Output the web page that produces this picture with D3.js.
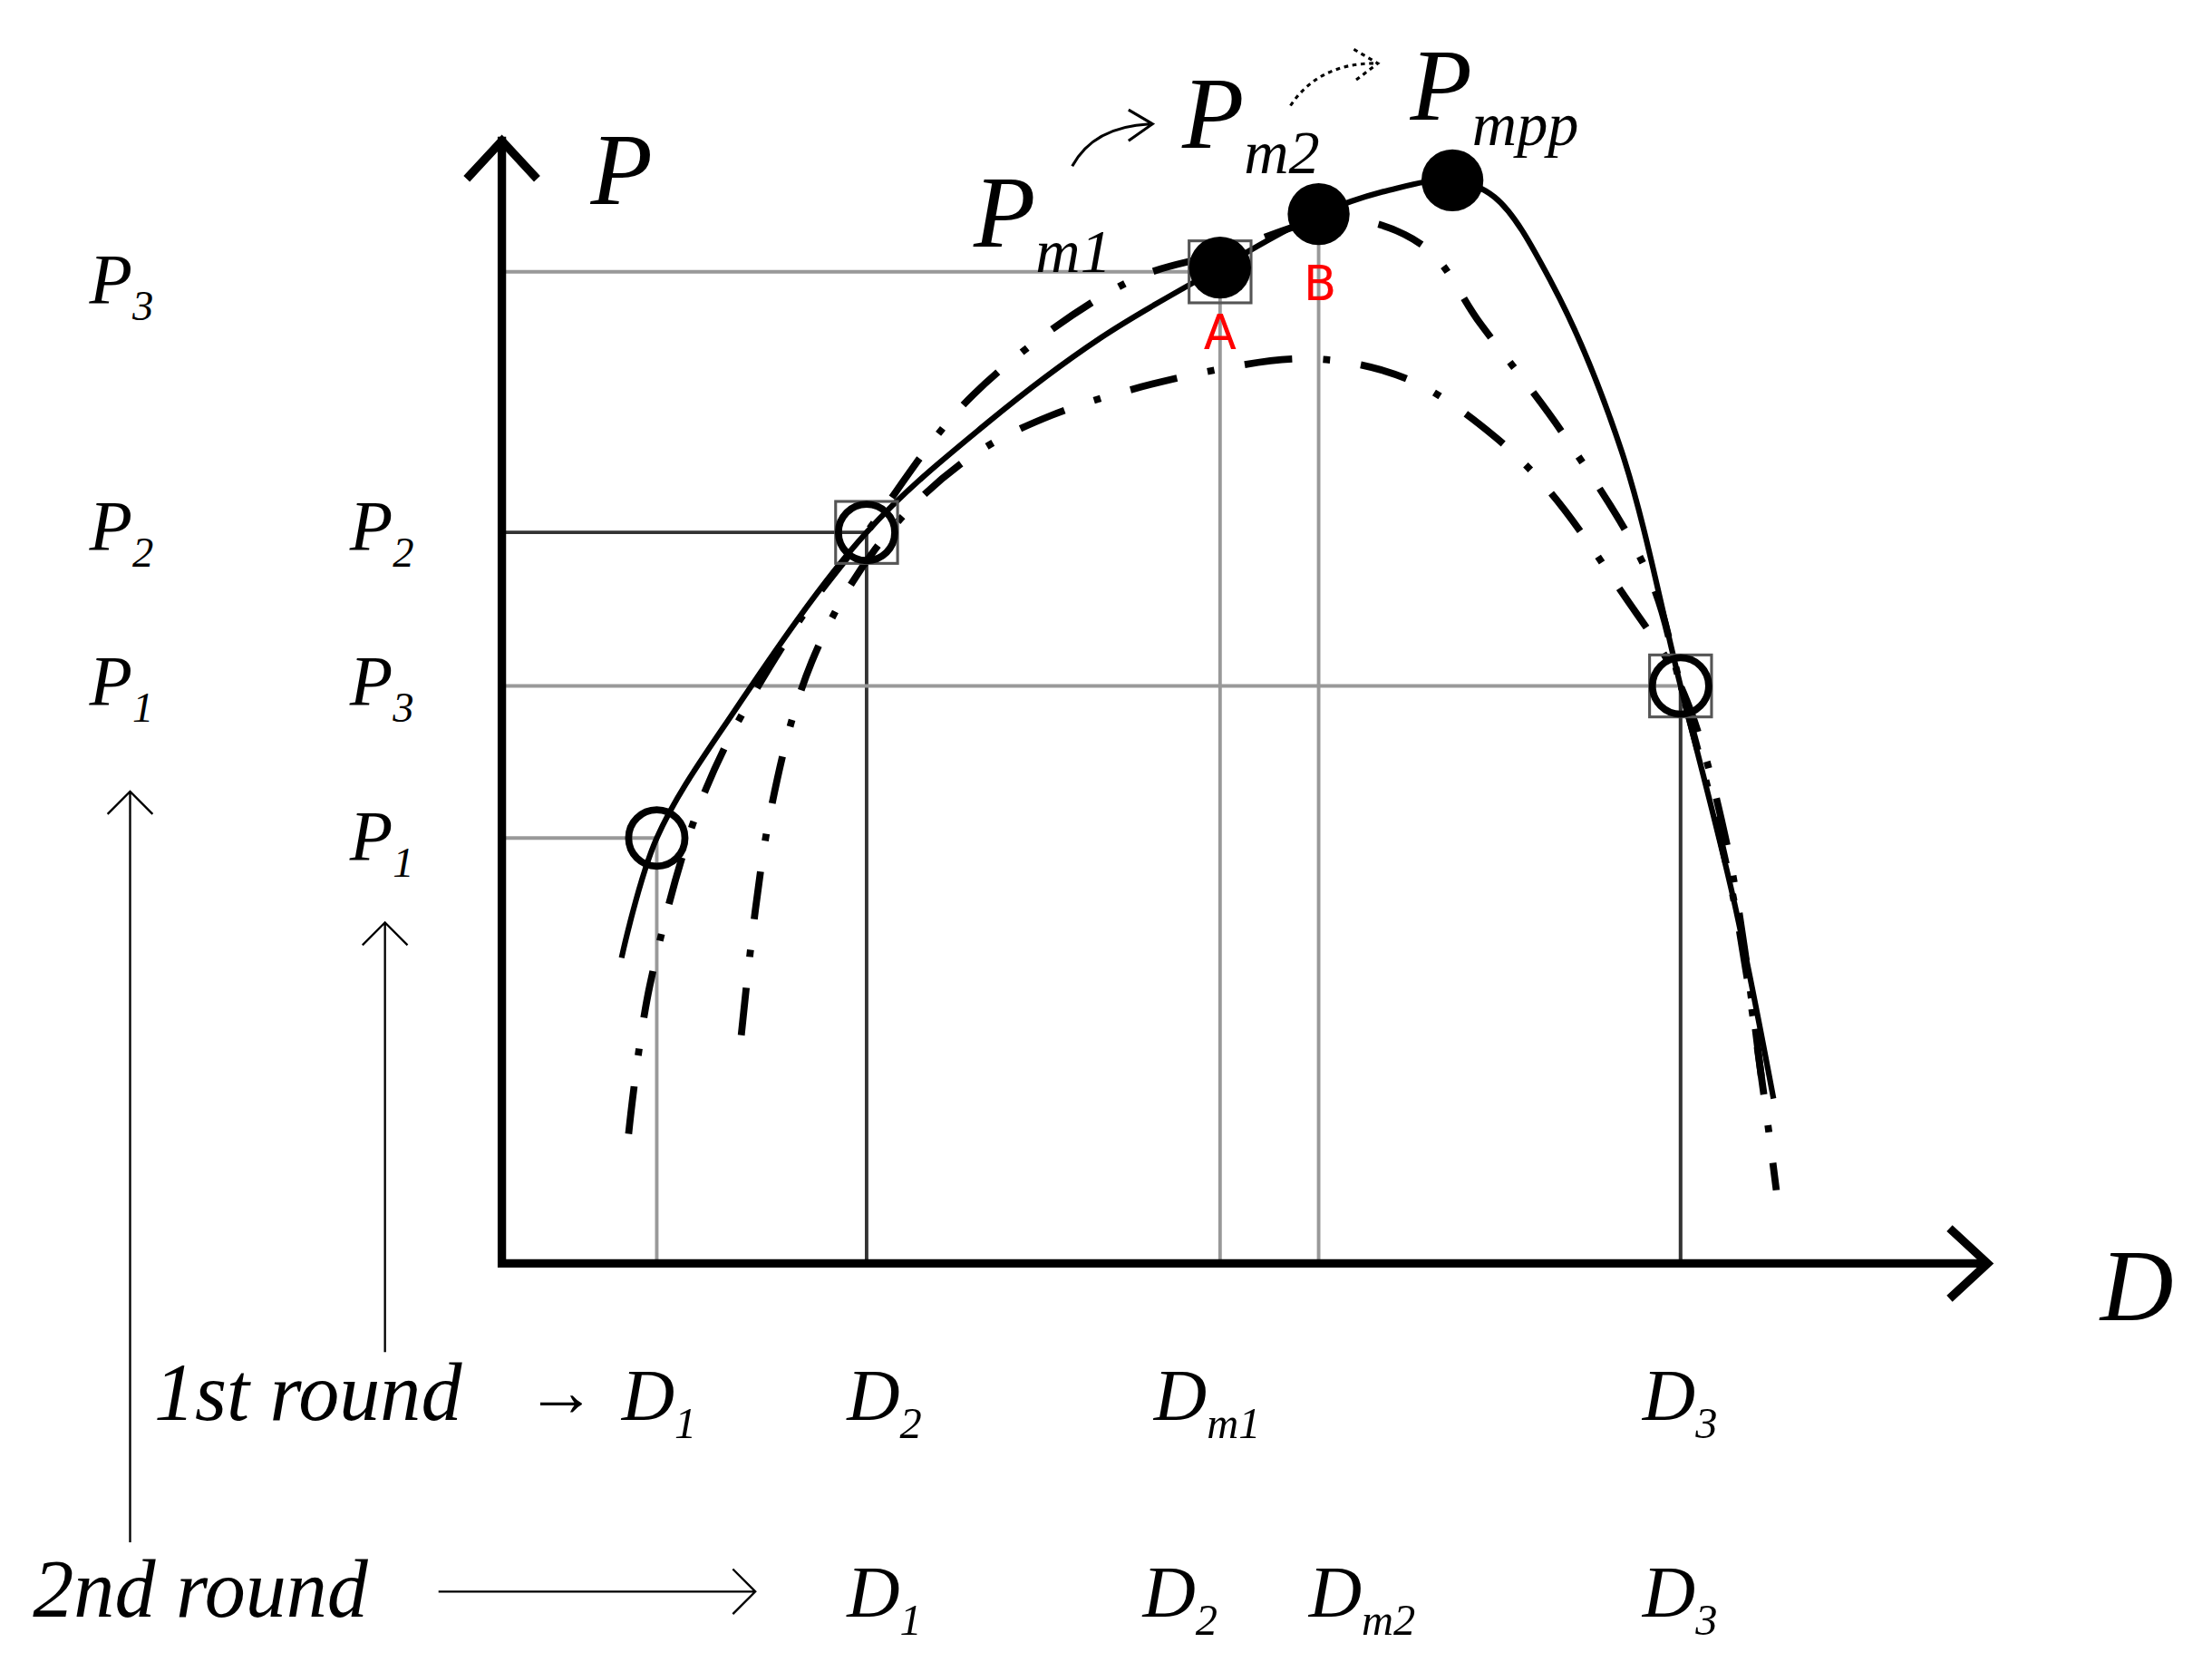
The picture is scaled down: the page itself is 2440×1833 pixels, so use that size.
<!DOCTYPE html>
<html><head><meta charset="utf-8">
<script src="https://cdn.jsdelivr.net/npm/d3@7"></script>
<style>body{margin:0;background:#fff}</style>
</head><body>
<script>
// curve samples in (D, P) units
const solidCurve = [[85,217],[110,302],[165,392],[259,519],[345,597],[425,657],[510,707],[580,745],[630,762],[675,769],[705,757],[745,697],[795,577],[837,410],[875,257],[903,117]];
const upperCurve = [[90,92],[105,197],[145,337],[205,447],[259,519],[335,617],[445,697],[510,717],[595,742],[655,722],[695,667],[755,587],[815,487],[837,410],[875,257],[905,52]];
const lowerCurve = [[170,162],[190,317],[220,427],[265,507],[325,567],[390,602],[510,635],[580,642],[645,627],[705,587],[745,547],[795,477],[837,410],[870,297],[895,127]];
const samples = [{D:110,P:302},{D:259,P:519},{D:837,P:410}];
const peaks = [{D:510,P:707},{D:580,P:745},{D:675,P:769}];
const guides = [ // [D, P, colour]
  [110,302,"#999"],[259,519,"#333"],[510,704,"#999"],[837,410,"#999"]];
const vOnly = [[580,745,"#999"],[837,410,"#333"]];

const W = 1568, H = 1180;
const svg = d3.select("body").append("svg")
  .attr("width", 2440).attr("height", 1833)
  .attr("viewBox", `0 0 ${W} ${H}`);

const x = d3.scaleLinear().domain([0,1055]).range([355,1410]);
const y = d3.scaleLinear().domain([0,797]).range([897,100]);

// guide lines
guides.forEach(([d,p,c]) => {
  svg.append("line").attr("x1",x(0)).attr("x2",x(d)).attr("y1",y(p)).attr("y2",y(p)).attr("stroke",c).attr("stroke-width",2.5);
  svg.append("line").attr("x1",x(d)).attr("x2",x(d)).attr("y1",y(0)).attr("y2",y(p)).attr("stroke",c).attr("stroke-width",2.5);
});
vOnly.forEach(([d,p,c]) => svg.append("line").attr("x1",x(d)).attr("x2",x(d)).attr("y1",y(0)).attr("y2",y(p)).attr("stroke",c).attr("stroke-width",2.5));

// axes
svg.append("path").attr("d",`M${x(0)},${y(0)-800}V${y(0)}H${x(1055)}`).attr("fill","none").attr("stroke","#000").attr("stroke-width",6);
svg.append("path").attr("d",`M${x(0)-25},${127}L${x(0)},${100}L${x(0)+25},${127}`).attr("fill","none").attr("stroke","#000").attr("stroke-width",6);
svg.append("path").attr("d",`M${x(1055)-27},${872}L${x(1055)},${897}L${x(1055)-27},${922}`).attr("fill","none").attr("stroke","#000").attr("stroke-width",6);

const line = d3.line().x(d=>x(d[0])).y(d=>y(d[1])).curve(d3.curveCatmullRom);
svg.append("path").attr("d",line(upperCurve)).attr("fill","none").attr("stroke","#000").attr("stroke-width",5).attr("stroke-dasharray","34,22,5,22");
svg.append("path").attr("d",line(lowerCurve)).attr("fill","none").attr("stroke","#000").attr("stroke-width",5).attr("stroke-dasharray","34,22,5,22");
svg.append("path").attr("d",line(solidCurve)).attr("fill","none").attr("stroke","#000").attr("stroke-width",4);

// squares
[[259,519],[837,410],[510,704]].forEach(([d,p]) => svg.append("rect").attr("x",x(d)-22).attr("y",y(p)-22).attr("width",44).attr("height",44).attr("fill","none").attr("stroke","#555").attr("stroke-width",2));
svg.selectAll(".s").data(samples).join("circle").attr("cx",d=>x(d.D)).attr("cy",d=>y(d.P)).attr("r",20).attr("fill","none").attr("stroke","#000").attr("stroke-width",5);
svg.selectAll(".pk").data(peaks).join("circle").attr("cx",d=>x(d.D)).attr("cy",d=>y(d.P)).attr("r",22).attr("fill","#000");

// curved arrows
svg.append("path").attr("d","M760,118 Q775,90 815,88 M800,78 L817,88 L800,100").attr("fill","none").attr("stroke","#000").attr("stroke-width",2);
svg.append("path").attr("d","M915,75 Q935,45 975,45 M960,35 L977,45 L960,58").attr("fill","none").attr("stroke","#000").attr("stroke-width",2).attr("stroke-dasharray","3,3");

// text
const serif = "'Liberation Serif','DejaVu Serif',serif";
function lab(tx, px, py, size, sub, subSize){
  const t = svg.append("text").attr("x",px).attr("y",py).attr("font-family",serif).attr("font-style","italic").attr("font-size",size).text(tx);
  if (sub) t.append("tspan").attr("dy",size*0.25).attr("font-size",subSize||size*0.6).text(sub);
}
lab("P",418,145,72);
lab("P",690,175,72,"m1",44);
lab("P",838,105,72,"m2",44);
lab("P",1000,85,72,"mpp",44);
lab("D",1490,937,72);
lab("P",62,215,50,"3");
lab("P",62,390,50,"2");
lab("P",62,500,50,"1");
lab("P",247,390,50,"2");
lab("P",247,500,50,"3");
lab("P",247,610,50,"1");
lab("1st round",108,1008,58);
lab("→",372,1005,50);
lab("D",440,1008,52,"1");
lab("D",600,1008,52,"2");
lab("D",818,1008,52,"m1");
lab("D",1165,1008,52,"3");
lab("2nd round",22,1148,58);
lab("D",600,1148,52,"1");
lab("D",810,1148,52,"2");
lab("D",928,1148,52,"m2");
lab("D",1165,1148,52,"3");
svg.append("text").attr("x",865).attr("y",248).attr("text-anchor","middle").attr("fill","red").attr("font-family","'DejaVu Sans',sans-serif").attr("font-size",34).text("A");
svg.append("text").attr("x",936).attr("y",213).attr("text-anchor","middle").attr("fill","red").attr("font-family","'DejaVu Sans',sans-serif").attr("font-size",34).text("B");

// round arrows
svg.append("path").attr("d","M91,1095V562 M75,578L91,562L107,578").attr("fill","none").attr("stroke","#000").attr("stroke-width",1.5);
svg.append("path").attr("d","M272,960V655 M256,671L272,655L288,671").attr("fill","none").attr("stroke","#000").attr("stroke-width",1.5);
svg.append("path").attr("d","M310,1130H535 M519,1114L535,1130L519,1146").attr("fill","none").attr("stroke","#000").attr("stroke-width",1.5);
</script>
</body></html>
